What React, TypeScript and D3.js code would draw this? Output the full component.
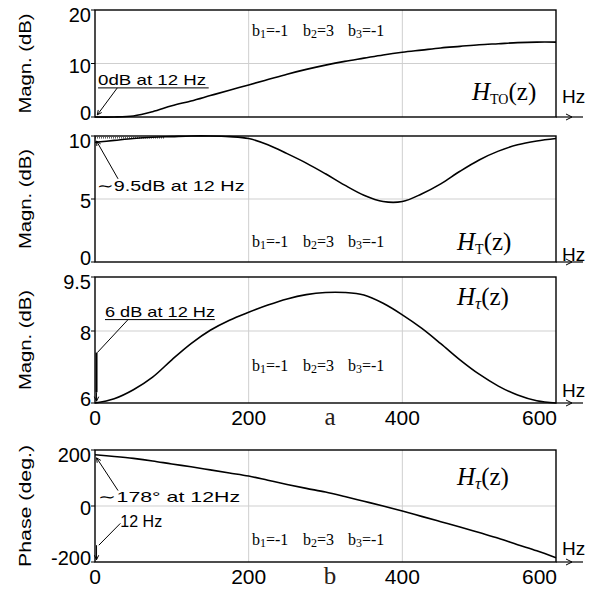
import React from "react";
import * as d3 from "d3";

// frequency grid (Hz) shared by all curves
const freqHz = [0, 25, 50, 75, 100, 125, 150, 175, 200, 225, 250, 275, 300, 325, 350, 375, 400, 425, 450, 475, 500, 525, 550, 575, 600];

const magHTO = [0, 0, 0.2, 1.0, 2.1, 3.0, 4.0, 5.0, 6.0, 7.0, 8.0, 8.9, 9.7, 10.4, 11.0, 11.6, 12.1, 12.5, 12.9, 13.2, 13.5, 13.7, 13.9, 14.0, 14.0];
const magHT = [9.5, 9.65, 9.8, 9.9, 9.95, 10, 10, 9.95, 9.8, 9.3, 8.6, 7.85, 7.0, 6.1, 5.3, 4.8, 4.8, 5.4, 6.2, 7.2, 8.1, 8.8, 9.3, 9.6, 9.8];
const magHtau = [6.0, 6.12, 6.37, 6.72, 7.2, 7.65, 8.02, 8.3, 8.52, 8.72, 8.89, 9.01, 9.07, 9.07, 9.0, 8.77, 8.45, 8.08, 7.65, 7.2, 6.8, 6.47, 6.22, 6.06, 6.0];
const phaseHtau = [183, 177, 170, 161, 150, 140, 129, 118, 107, 92, 77, 63, 50, 34, 17, 0, -18, -37, -56, -75, -95, -115, -138, -160, -185];

const xTicks = [0, 200, 400, 600];
const ticksHTO = [0, 10, 20];
const ticksHT = [0, 5, 10];
const ticksHtau = [6, 8, 9.5];
const ticksPhase = [-200, 0, 200];

const coeffs = ["b|1|=-1", "b|2|=3", "b|3|=-1"];

const LEFT = 95;
const RIGHT = 556;
const SANS = "Liberation Sans, Arial, sans-serif";
const SERIF = "Liberation Serif, Times New Roman, serif";

type PanelProps = {
  top: number;
  bottom: number;
  values: number[];
  ticks: number[];
  yLabel: string;
  yLabelLen: number;
  hSub: string;
  hSubGreek?: boolean;
  hBase: number;
  hzBase: number;
  bBase: number;
  showX: boolean;
  xBase: number;
  letter?: string;
  children?: (x: d3.ScaleLinear<number, number>, y: d3.ScaleLinear<number, number>) => React.ReactNode;
};

const Panel = (p: PanelProps) => {
  const x = d3.scaleLinear().domain([0, 600]).range([LEFT, RIGHT]);
  const y = d3.scaleLinear().domain([p.ticks[0], p.ticks[p.ticks.length - 1]]).range([p.bottom, p.top]);
  const line = d3
    .line<number>()
    .x((d, i) => x(freqHz[i]))
    .y((d) => y(d))
    .curve(d3.curveCatmullRom.alpha(0.5));
  const mid = p.ticks[1];
  const bX = [252, 303, 348];
  const labelShift = [-4, 2, 5];
  return (
    <g>
      {/* grid */}
      {[200, 400].map((t) => (
        <line key={t} x1={x(t)} x2={x(t)} y1={p.top} y2={p.bottom} stroke="#cfcfcf" strokeWidth={1} />
      ))}
      <line x1={LEFT} x2={RIGHT} y1={y(mid)} y2={y(mid)} stroke="#cfcfcf" strokeWidth={1} />
      {/* frame */}
      <rect x={LEFT} y={p.top} width={RIGHT - LEFT} height={p.bottom - p.top} fill="none" stroke="#000" strokeWidth={1.4} />
      {/* x arrow */}
      <line x1={RIGHT} x2={583} y1={p.bottom} y2={p.bottom} stroke="#000" strokeWidth={1.2} />
      <path d={`M${566},${p.bottom - 3} L${572},${p.bottom} L${566},${p.bottom + 3}`} fill="none" stroke="#000" strokeWidth={1} />
      <text x={562} y={p.hzBase} fontFamily={SANS} fontSize={19}>Hz</text>
      {/* y ticks */}
      {p.ticks.map((t, i) => (
        <g key={t}>
          <line x1={LEFT - 4} x2={LEFT} y1={y(t)} y2={y(t)} stroke="#000" />
          <text x={LEFT - 4} y={y(t) + labelShift[i]} dy="0.36em" textAnchor="end" fontFamily={SANS} fontSize={20}>
            {t}
          </text>
        </g>
      ))}
      <text
        transform={`translate(31, ${(p.top + p.bottom) / 2}) rotate(-90)`}
        textAnchor="middle"
        fontFamily={SANS}
        fontSize={17}
        textLength={p.yLabelLen}
        lengthAdjust="spacingAndGlyphs"
      >
        {p.yLabel}
      </text>
      {/* x tick labels */}
      {p.showX &&
        xTicks.map((t, i) => (
          <text
            key={t}
            x={i === xTicks.length - 1 ? x(t) + 1 : x(t)}
            y={p.xBase}
            textAnchor={i === xTicks.length - 1 ? "end" : "middle"}
            fontFamily={SANS}
            fontSize={21}
          >
            {t}
          </text>
        ))}
      {p.letter && (
        <text x={330} y={p.xBase} textAnchor="middle" fontFamily={SERIF} fontSize={25} fill="#2a2018">
          {p.letter}
        </text>
      )}
      {/* curve */}
      <path d={line(p.values) || ""} fill="none" stroke="#000" strokeWidth={1.6} />
      {/* coefficients */}
      {coeffs.map((c, i) => {
        const [a, s, r] = c.split("|");
        return (
          <text key={c} x={bX[i]} y={p.bBase} fontFamily={SERIF} fontSize={16}>
            {a}
            <tspan fontSize={12} dy={2}>{s}</tspan>
            <tspan dy={-2}>{r}</tspan>
          </text>
        );
      })}
      {/* transfer function name */}
      <text x={p.hSub === "TO" ? 472 : 457} y={p.hBase} fontFamily={SERIF} fontSize={25}>
        <tspan fontStyle="italic">H</tspan>
        <tspan fontSize={p.hSubGreek ? 17 : 14} dy={4} fontStyle={p.hSubGreek ? "italic" : "normal"}>
          {p.hSub}
        </tspan>
        <tspan dy={-4}>(z)</tspan>
      </text>
      {p.children && p.children(x, y)}
    </g>
  );
};

const Arrow = ({ x1, y1, x2, y2 }: { x1: number; y1: number; x2: number; y2: number }) => {
  const a = Math.atan2(y2 - y1, x2 - x1);
  const L = 5;
  const p1 = [x2 - L * Math.cos(a - 0.45), y2 - L * Math.sin(a - 0.45)];
  const p2 = [x2 - L * Math.cos(a + 0.45), y2 - L * Math.sin(a + 0.45)];
  return (
    <g stroke="#000" strokeWidth={1} fill="none">
      <line x1={x1} y1={y1} x2={x2} y2={y2} />
      <path d={`M${p1[0]},${p1[1]} L${x2},${y2} L${p2[0]},${p2[1]}`} />
    </g>
  );
};

const App = () => {
  return (
    <svg width={590} height={590} style={{ position: "absolute", left: 0, top: 0, background: "#fff" }}>
      <rect width={590} height={590} fill="#fff" />
      <Panel top={10} bottom={117} values={magHTO} ticks={ticksHTO} yLabel="Magn. (dB)" yLabelLen={100}
        hSub="TO" hBase={100} hzBase={103} bBase={36} showX={false} xBase={0}>
        {(x, y) => (
          <g>
            <text x={x(4)} y={y(6)} fontFamily={SANS} fontSize={15} textLength={108} lengthAdjust="spacingAndGlyphs">0dB at 12 Hz</text>
            <line x1={x(4)} x2={x(148)} y1={y(6) + 3} y2={y(6) + 3} stroke="#000" />
            <Arrow x1={x(29)} y1={y(6) + 3} x2={x(3)} y2={y(0.4)} />
          </g>
        )}
      </Panel>
      <Panel top={136} bottom={262} values={magHT} ticks={ticksHT} yLabel="Magn. (dB)" yLabelLen={100}
        hSub="T" hBase={250} hzBase={261} bBase={247} showX={false} xBase={0}>
        {(x, y) => (
          <g>
            <line x1={x(0)} x2={x(90)} y1={y(9.85)} y2={y(9.85)} stroke="#000" strokeDasharray="1,1" />
            <text x={x(2)} y={y(5.6)} fontFamily={SANS} fontSize={15} textLength={148} lengthAdjust="spacingAndGlyphs">∼9.5dB at 12 Hz</text>
            <Arrow x1={x(30)} y1={y(6.6)} x2={x(2)} y2={y(9.6)} />
          </g>
        )}
      </Panel>
      <Panel top={277} bottom={403} values={magHtau} ticks={ticksHtau} yLabel="Magn. (dB)" yLabelLen={100}
        hSub="τ" hSubGreek hBase={305} hzBase={397} bBase={371} showX xBase={425} letter="a">
        {(x, y) => (
          <g>
            <text x={x(13)} y={y(8.4)} fontFamily={SANS} fontSize={15} textLength={110} lengthAdjust="spacingAndGlyphs">6 dB at 12 Hz</text>
            <line x1={x(13)} x2={x(156)} y1={y(8.4) + 3} y2={y(8.4) + 3} stroke="#000" />
            <line x1={x(43)} y1={y(8.4) + 3} x2={x(3)} y2={y(7.4)} stroke="#000" />
            <line x1={x(2)} y1={y(7.4)} x2={x(2)} y2={y(6.3)} stroke="#000" strokeWidth={2} />
            <Arrow x1={x(2)} y1={y(6.3)} x2={x(2)} y2={y(6.05)} />
          </g>
        )}
      </Panel>
      <Panel top={450} bottom={562} values={phaseHtau} ticks={ticksPhase} yLabel="Phase (deg.)" yLabelLen={122}
        hSub="τ" hSubGreek hBase={485} hzBase={555} bBase={545} showX xBase={584} letter="b">
        {(x, y) => (
          <g>
            <text x={x(4)} y={y(15)} fontFamily={SANS} fontSize={15} textLength={142} lengthAdjust="spacingAndGlyphs">∼178° at 12Hz</text>
            <Arrow x1={x(30)} y1={y(55)} x2={x(2)} y2={y(172)} />
            <text x={x(33)} y={y(-75)} fontFamily={SANS} fontSize={16}>12 Hz</text>
            <line x1={x(33)} y1={y(-62)} x2={x(5)} y2={y(-140)} stroke="#000" />
            <Arrow x1={x(2)} y1={y(-140)} x2={x(2)} y2={y(-192)} />
          </g>
        )}
      </Panel>
    </svg>
  );
};

export default App;
